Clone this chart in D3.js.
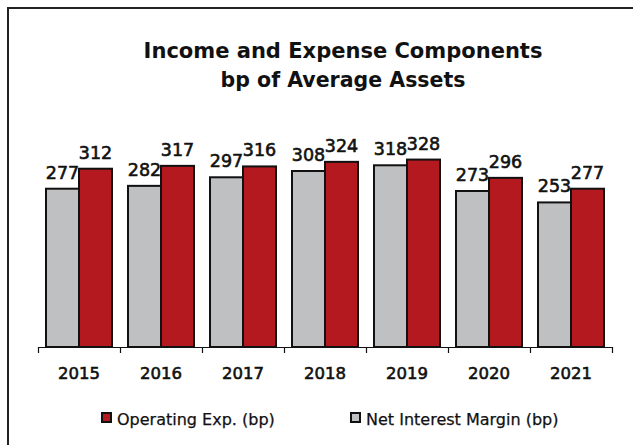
<!DOCTYPE html>
<html>
<head>
<meta charset="utf-8">
<script src="https://cdn.jsdelivr.net/npm/d3@7"></script>
<style>
  body { margin: 0; background: #fff; }
  svg { display: block; }
</style>
</head>
<body>
<div id="chart"></div>
<script>
// data
var years = ['2015', '2016', '2017', '2018', '2019', '2020', '2021'];
var seriesNames = ['Net Interest Margin (bp)', 'Operating Exp. (bp)'];
var nimValues = [277, 282, 297, 308, 318, 273, 253];
var opexValues = [312, 317, 316, 324, 328, 296, 277];
var legendOrder = ['Operating Exp. (bp)', 'Net Interest Margin (bp)'];
var titleLines = ['Income and Expense Components', 'bp of Average Assets'];

var width = 633, height = 445;
var colors = { 'Net Interest Margin (bp)': '#bfc0c2', 'Operating Exp. (bp)': '#b3191f' };
var font = "'DejaVu Sans', sans-serif";

var rows = years.map(function(y, i) {
  return { year: y, values: [nimValues[i], opexValues[i]] };
});

var svg = d3.select('#chart').append('svg')
  .attr('width', width)
  .attr('height', height);

// frame (top + left edge only, like the cropped original)
svg.append('path')
  .attr('d', 'M8,' + height + 'V8H' + width)
  .attr('fill', 'none')
  .attr('stroke', '#222')
  .attr('stroke-width', 2);

// title - fit each line to the width it has in the original
var titleY = [58, 87];
var titleW = [399, 245];
svg.selectAll('.title')
  .data(titleLines)
  .enter().append('text')
  .attr('class', 'title')
  .attr('text-anchor', 'middle')
  .attr('font-family', font)
  .attr('font-weight', 'bold')
  .attr('font-size', 21)
  .attr('fill', '#111')
  .text(function(d) { return d; })
  .attr('transform', function(d, i) {
    var w = this.getComputedTextLength();
    return 'translate(343,' + titleY[i] + ') scale(' + (titleW[i] / w) + ',1)';
  });

// scales
var x0 = d3.scaleBand().domain(years).range([38, 612]);
var x1 = d3.scaleBand().domain([0, 1]).range([8, x0.bandwidth() - 8]);
var y = d3.scaleLinear().domain([0, 350]).range([347, 147]);

// bars
var groups = svg.append('g')
  .selectAll('g')
  .data(rows)
  .enter().append('g')
  .attr('transform', function(d) { return 'translate(' + x0(d.year) + ',0)'; });

groups.selectAll('rect')
  .data(function(d) {
    return d.values.map(function(v, i) { return { key: seriesNames[i], i: i, value: v }; });
  })
  .enter().append('rect')
  .attr('x', function(d) { return x1(d.i); })
  .attr('y', function(d) { return y(d.value); })
  .attr('width', x1.bandwidth())
  .attr('height', function(d) { return y(0) - y(d.value); })
  .attr('fill', function(d) { return colors[d.key]; })
  .attr('stroke', '#111')
  .attr('stroke-width', 2);

// value labels
groups.selectAll('text')
  .data(function(d) {
    return d.values.map(function(v, i) { return { i: i, value: v }; });
  })
  .enter().append('text')
  .attr('x', function(d) { return x1(d.i) + x1.bandwidth() / 2; })
  .attr('y', function(d) { return y(d.value) - 10; })
  .attr('text-anchor', 'middle')
  .attr('font-family', font)
  .attr('font-size', 17.5)
  .attr('fill', '#111')
  .attr('stroke', '#111')
  .attr('stroke-width', 0.6)
  .text(function(d) { return d.value; });

// x axis: line + boundary ticks
var xb = d3.scaleLinear().domain([0, years.length]).range([38, 612]);
svg.append('g')
  .attr('transform', 'translate(0,' + y(0) + ')')
  .call(d3.axisBottom(xb).tickValues(d3.range(years.length + 1)).tickSize(6).tickSizeOuter(0).tickFormat(''))
  .call(function(g) {
    g.selectAll('path, line').attr('stroke', '#111').attr('stroke-width', 1.2);
  });

// x axis labels
svg.append('g')
  .attr('transform', 'translate(0,' + y(0) + ')')
  .call(d3.axisBottom(x0).tickSize(0).tickPadding(20))
  .call(function(g) {
    g.select('.domain').remove();
    g.selectAll('text')
      .attr('font-family', font)
      .attr('font-size', 16.5)
      .attr('fill', '#111')
      .attr('stroke', '#111')
      .attr('stroke-width', 0.6);
  });

// legend
var legendX = [102, 351];
var legend = svg.append('g')
  .selectAll('g')
  .data(legendOrder)
  .enter().append('g')
  .attr('transform', function(d, i) { return 'translate(' + legendX[i] + ',413)'; });

legend.append('rect')
  .attr('width', 9)
  .attr('height', 9)
  .attr('fill', function(d) { return colors[d]; })
  .attr('stroke', '#111')
  .attr('stroke-width', 2);

legend.append('text')
  .attr('x', 15)
  .attr('y', 12)
  .attr('font-family', font)
  .attr('font-size', 16)
  .attr('fill', '#111')
  .attr('stroke', '#111')
  .attr('stroke-width', 0.25)
  .text(function(d) { return d; });
</script>
</body>
</html>
